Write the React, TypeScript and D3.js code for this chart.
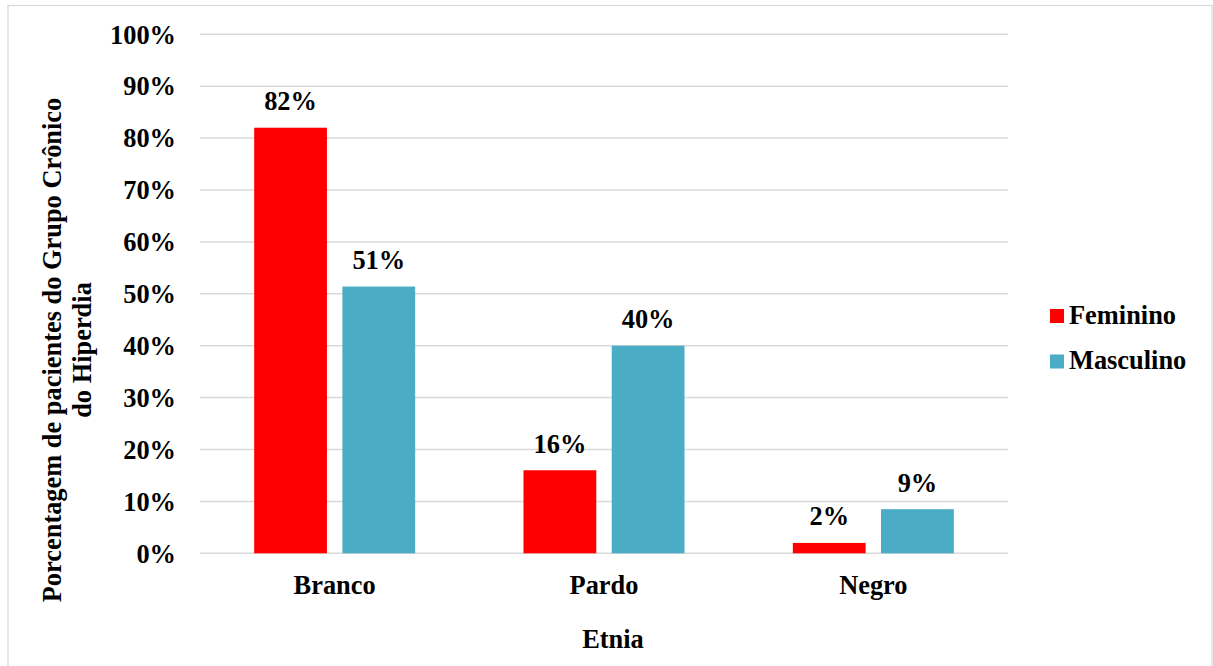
import React from "react";
import * as d3 from "d3";

const categories = ["Branco", "Pardo", "Negro"];
const seriesNames = ["Feminino", "Masculino"];
const feminino = [82, 16, 2];
const masculino = [51.4, 40, 8.5];
const yTicks = [0, 10, 20, 30, 40, 50, 60, 70, 80, 90, 100];
const colors = ["#FF0000", "#4BACC6"];

const W = 1213;
const H = 666;
const FONT = "'Liberation Serif', 'Times New Roman', serif";
const FS = 26.4;

export default function App() {
  const x0 = d3.scaleBand<string>().domain(categories).range([200, 1008]).padding(0);
  const groupW = 161;
  const x1 = d3.scaleBand<string>().domain(seriesNames).range([0, groupW]).paddingInner(0.175).paddingOuter(0);
  const y = d3.scaleLinear().domain([0, 100]).range([553.3, 34.3]);
  const values = [feminino, masculino];

  return (
    <svg width={W} height={H} style={{ position: "fixed", left: 0, top: 0, background: "#fff" }}>
      <rect x={0} y={0} width={W} height={H} fill="#fff" />
      <rect x={8} y={5.5} width={1204} height={H + 10} fill="none" stroke="#d9d9d9" strokeWidth={1.3} />
      {yTicks.map((t) => (
        <g key={t}>
          <line x1={200} x2={1008} y1={y(t)} y2={y(t)} stroke="#d9d9d9" strokeWidth={1.5} />
          <text x={176} y={y(t) + 9.2} textAnchor="end" fontFamily={FONT} fontWeight="bold" fontSize={FS} fill="#000">
            {t}%
          </text>
        </g>
      ))}
      {categories.map((c, ci) => {
        const gx = (x0(c) as number) + (x0.bandwidth() - groupW) / 2;
        return (
          <g key={c}>
            {seriesNames.map((s, si) => {
              const v = values[si][ci];
              const bx = gx + (x1(s) as number);
              const bw = x1.bandwidth();
              return (
                <g key={s}>
                  <rect x={bx} y={y(v)} width={bw} height={y(0) - y(v)} fill={colors[si]} />
                  <text x={bx + bw / 2} y={y(v) - 17.5} textAnchor="middle" fontFamily={FONT} fontWeight="bold" fontSize={FS} fill="#000">
                    {Math.round(v)}%
                  </text>
                </g>
              );
            })}
            <text x={(x0(c) as number) + x0.bandwidth() / 2} y={594} textAnchor="middle" fontFamily={FONT} fontWeight="bold" fontSize={FS} fill="#000">
              {c}
            </text>
          </g>
        );
      })}
      <text x={613} y={648} textAnchor="middle" fontFamily={FONT} fontWeight="bold" fontSize={FS} fill="#000">
        Etnia
      </text>
      <g transform="translate(0,350) rotate(-90)">
        <text x={0} y={61} textAnchor="middle" fontFamily={FONT} fontWeight="bold" fontSize={FS} fill="#000">
          Porcentagem de pacientes do Grupo Crônico
        </text>
        <text x={0} y={91} textAnchor="middle" fontFamily={FONT} fontWeight="bold" fontSize={FS} fill="#000">
          do Hiperdia
        </text>
      </g>
      {seriesNames.map((s, si) => (
        <g key={s} transform={`translate(1050,${309 + si * 45.5})`}>
          <rect x={0} y={0} width={14} height={14} fill={colors[si]} />
          <text x={19} y={14.5} fontFamily={FONT} fontWeight="bold" fontSize={FS} fill="#000">
            {s}
          </text>
        </g>
      ))}
    </svg>
  );
}
